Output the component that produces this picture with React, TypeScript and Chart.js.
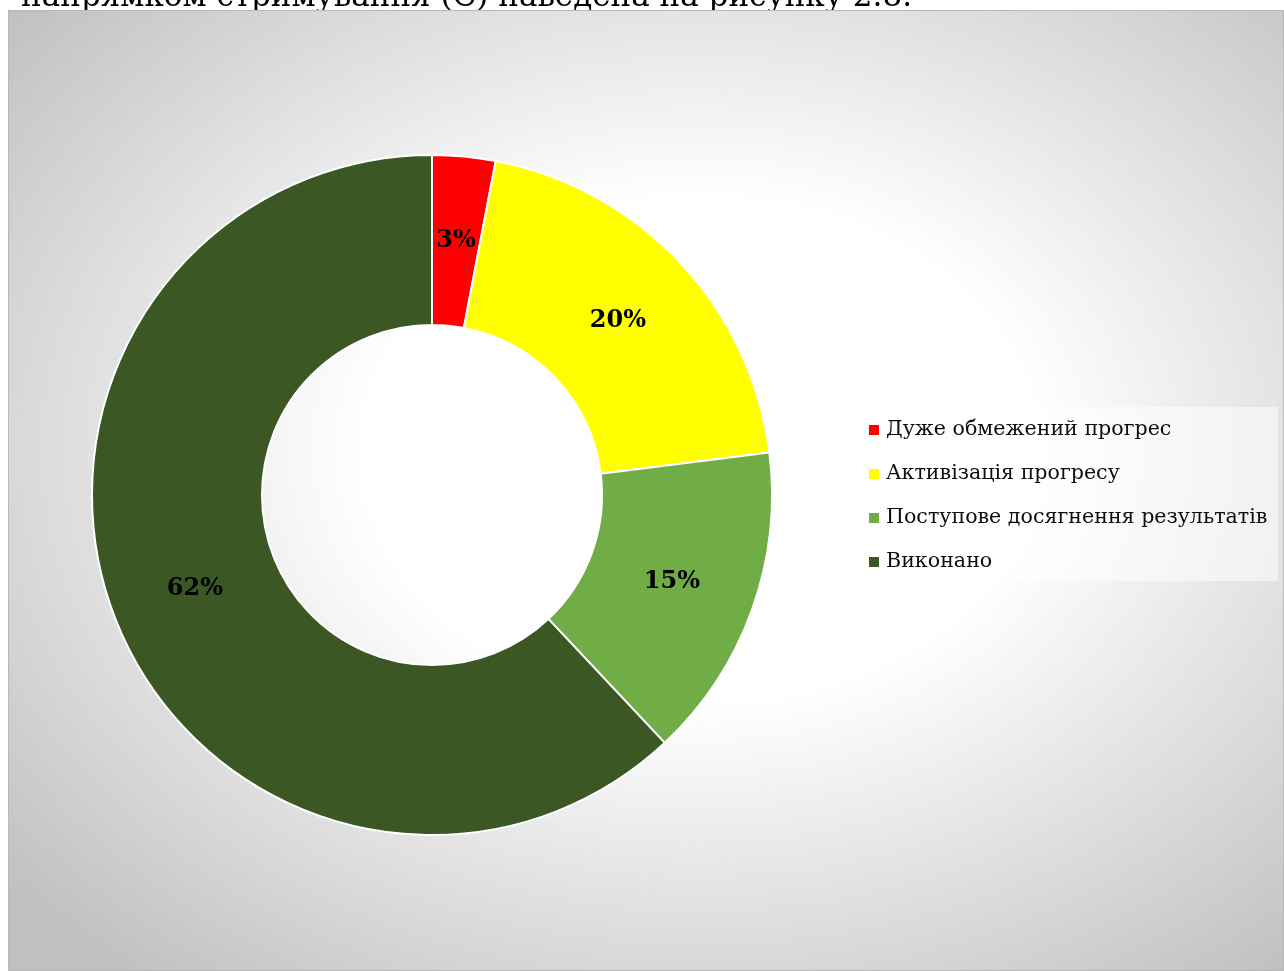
import React, { useEffect, useRef } from "react";
import { Chart, registerables } from "chart.js";

Chart.register(...registerables);

const categories: string[] = [
  "Дуже обмежений прогрес",
  "Активізація прогресу",
  "Поступове досягнення результатів",
  "Виконано",
];
const values: number[] = [3, 20, 15, 62];
const colors: string[] = ["#FF0000", "#FFFF00", "#70AD47", "#3A5724"];
const captionText = "напрямком стримування (С) наведена на рисунку 2.8.";

const FONT = "'DejaVu Serif', 'Liberation Serif', serif";

const percentLabels = {
  id: "percentLabels",
  afterDatasetsDraw(chart: any) {
    const ctx = chart.ctx;
    const meta = chart.getDatasetMeta(0);
    const data = chart.data.datasets[0].data as number[];
    ctx.save();
    ctx.font = `bold 24px ${FONT}`;
    ctx.fillStyle = "#000000";
    ctx.textAlign = "center";
    ctx.textBaseline = "middle";
    meta.data.forEach((arc: any, i: number) => {
      const p = arc.tooltipPosition();
      ctx.fillText(`${data[i]}%`, p.x, p.y);
    });
    ctx.restore();
  },
};

const boxLegend = {
  id: "boxLegend",
  afterDraw(chart: any) {
    const ctx = chart.ctx;
    const labels = chart.data.labels as string[];
    const bg = chart.data.datasets[0].backgroundColor as string[];
    const x0 = 846;
    const y0 = 396;
    const w = 423;
    const h = 174;
    ctx.save();
    ctx.fillStyle = "rgba(255,255,255,0.5)";
    ctx.fillRect(x0, y0, w, h);
    ctx.font = `20.6px ${FONT}`;
    ctx.textBaseline = "middle";
    ctx.textAlign = "left";
    labels.forEach((l, i) => {
      const cy = y0 + 23 + i * 44;
      ctx.fillStyle = bg[i];
      ctx.fillRect(x0 + 14, cy - 5, 10, 10);
      ctx.fillStyle = "#0d0d0d";
      ctx.fillText(l, x0 + 31, cy);
    });
    ctx.restore();
  },
};

export default function App() {
  const canvasRef = useRef<HTMLCanvasElement | null>(null);

  useEffect(() => {
    document.documentElement.style.overflow = "hidden";
    if (!canvasRef.current) return;
    const chart = new Chart(canvasRef.current, {
      type: "doughnut",
      data: {
        labels: categories,
        datasets: [
          {
            data: values,
            backgroundColor: colors,
            borderColor: "#ffffff",
            borderWidth: 2,
            hoverOffset: 0,
          },
        ],
      },
      options: {
        animation: false,
        responsive: true,
        maintainAspectRatio: false,
        events: [],
        radius: 340,
        cutout: "50%",
        layout: { padding: { left: 40, right: 468, top: 40, bottom: 31 } },
        plugins: {
          legend: { display: false },
          tooltip: { enabled: false },
        },
      } as any,
      plugins: [percentLabels, boxLegend],
    });
    return () => chart.destroy();
  }, []);

  return (
    <>
      <div
        style={{
          position: "fixed",
          top: -20,
          left: 0,
          width: 912,
          display: "flex",
          justifyContent: "flex-end",
          whiteSpace: "nowrap",
          fontFamily: FONT,
          fontSize: 31,
          lineHeight: "31px",
          color: "#000",
        }}
      >
        <span>{captionText}</span>
      </div>
      <div
        style={{
          position: "fixed",
          left: 8,
          top: 10,
          width: 1276,
          height: 961,
          boxSizing: "border-box",
          border: "1px solid #b8b8b8",
          background:
            "radial-gradient(ellipse 905px 680px at 691px 439px, #ffffff 0%, #ffffff 37%, #c0c0c0 100%)",
        }}
      >
        <div style={{ position: "relative", width: "100%", height: "100%" }}>
          <canvas ref={canvasRef} />
        </div>
      </div>
    </>
  );
}
